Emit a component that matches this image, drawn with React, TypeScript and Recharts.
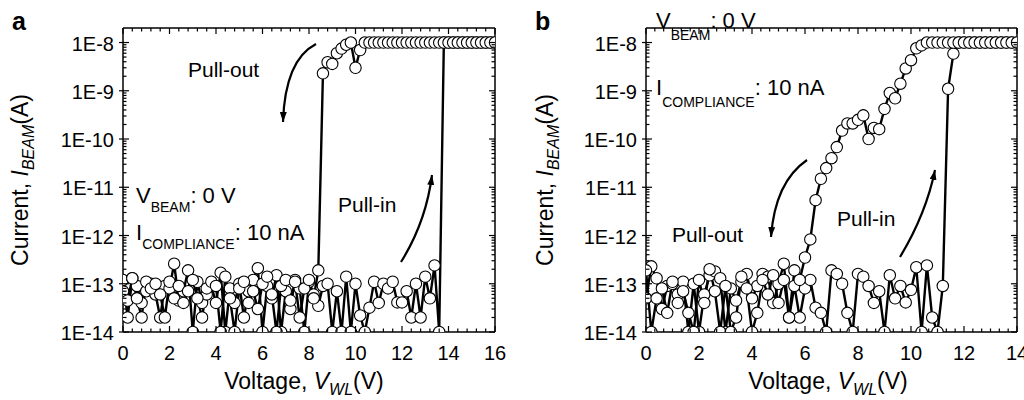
import React from "react";
import { LineChart, Line, XAxis, YAxis } from "recharts";

const FONT = "'Liberation Sans', Arial, Helvetica, sans-serif";

// panel a: sweep grid (V) and beam current (A)
const VOLT_A = [
  0, 0.2, 0.4, 0.6, 0.8, 1, 1.2, 1.4, 1.6, 1.8, 2, 2.2, 2.4, 2.6, 2.8, 3, 3.2, 3.4, 3.6, 3.8,
  4, 4.2, 4.4, 4.6, 4.8, 5, 5.2, 5.4, 5.6, 5.8, 6, 6.2, 6.4, 6.6, 6.8, 7, 7.2, 7.4, 7.6, 7.8,
  8, 8.2, 8.4, 8.6, 8.8, 9, 9.2, 9.4, 9.6, 9.8, 10, 10.2, 10.4, 10.6, 10.8, 11, 11.2, 11.4, 11.6, 11.8,
  12, 12.2, 12.4, 12.6, 12.8, 13, 13.2, 13.4, 13.6, 13.8, 14, 14.2, 14.4, 14.6, 14.8, 15, 15.2, 15.4, 15.6, 15.8,
  16,
];
const PULLIN_A = [
  1.2e-13, 2e-14, 1.3e-13, 9e-14, 4e-14, 7e-14, 1e-13, 6e-14, 2e-14, 9e-14,
  8e-14, 2.6e-13, 4.5e-14, 7e-14, 1.9e-13, 1e-14, 1.1e-13, 4e-14, 6e-14, 9e-14,
  4e-14, 1.7e-13, 1e-14, 8e-14, 4e-14, 1e-13, 2e-14, 7e-14, 1.2e-13, 2.1e-13,
  1e-14, 9e-14, 5e-14, 1.5e-13, 1e-14, 7e-14, 3e-14, 1.2e-13, 8e-14, 1e-14,
  1.1e-13, 6e-14, 3.5e-14,
  9e-14, 1e-13, 1e-14, 7e-14, 1e-14, 1.4e-13, 1e-14, 1e-13, 2.2e-14, 1e-14,
  3.2e-14, 1.1e-13, 4e-14, 1e-13, 8e-14, 1.1e-13, 4.1e-14, 4.1e-14, 7e-14, 2e-14,
  1e-13, 2e-14, 1.4e-13, 5e-14, 2.4e-13,
  1e-14,
  1e-8, 1e-8, 1e-8, 1e-8, 1e-8, 1e-8, 1e-8, 1e-8, 1e-8, 1e-8, 1e-8, 1e-8,
];
const PULLOUT_A = [
  7e-14, 4.5e-14, 1.3e-13, 5e-14, 2e-14, 1.1e-13, 8e-14, 1e-13, 6e-14, 2e-14,
  1.1e-13, 5e-14, 9e-14, 4e-14, 7e-14, 1.2e-13, 5e-14, 2e-14, 8e-14, 1.1e-13,
  9e-14, 1e-14, 1.4e-13, 5e-14, 1e-14, 8e-14, 1.1e-13, 4e-14, 7e-14, 3e-14,
  1e-13, 1.4e-13, 6e-14, 1e-14, 9e-14, 1.2e-13, 4.5e-14, 1.1e-13, 2e-14, 8e-14,
  1.2e-13, 5e-14,
  1.9e-13,
  2.3e-9, 3.9e-9, 3.6e-9, 6e-9, 7.5e-9, 9e-9, 1e-8, 3e-9, 7e-9,
  1e-8, 1e-8, 1e-8, 1e-8, 1e-8, 1e-8, 1e-8, 1e-8, 1e-8, 1e-8,
  1e-8, 1e-8, 1e-8, 1e-8, 1e-8, 1e-8, 1e-8, 1e-8, 1e-8, 1e-8,
  1e-8, 1e-8, 1e-8, 1e-8, 1e-8, 1e-8, 1e-8, 1e-8, 1e-8,
];

// panel b
const VOLT_B = [
  0, 0.2, 0.4, 0.6, 0.8, 1, 1.2, 1.4, 1.6, 1.8, 2, 2.2, 2.4, 2.6, 2.8, 3, 3.2, 3.4, 3.6, 3.8,
  4, 4.2, 4.4, 4.6, 4.8, 5, 5.2, 5.4, 5.6, 5.8, 6, 6.2, 6.4, 6.6, 6.8, 7, 7.2, 7.4, 7.6, 7.8,
  8, 8.2, 8.4, 8.6, 8.8, 9, 9.2, 9.4, 9.6, 9.8, 10, 10.2, 10.4, 10.6, 10.8, 11, 11.2, 11.4, 11.6, 11.8,
  12, 12.2, 12.4, 12.6, 12.8, 13, 13.2, 13.4, 13.6, 13.8, 14,
];
const PULLIN_B = [
  5e-14, 2.3e-13, 1.3e-13, 3e-14, 9e-14, 1e-13, 6e-14, 1.1e-13, 1e-14, 1e-13,
  1e-14, 6e-14, 1.5e-13, 1.8e-13, 1.3e-13, 1e-14, 8e-14, 4.5e-14, 1.1e-13, 1.6e-13,
  5e-14, 9e-14, 1.6e-13, 1.4e-13, 4e-14, 1e-13, 2.6e-13, 2e-14, 9e-14, 2e-14,
  8e-14, 1.2e-13, 3.2e-14, 2.5e-14, 1e-14, 1.9e-13, 1.6e-13, 1e-13, 2.5e-14, 1e-14,
  1.6e-13, 1.4e-13, 9e-14, 4e-14, 7e-14, 1e-14, 1.5e-13, 5e-14, 9e-14, 4.1e-14,
  7.5e-14, 2.2e-13, 1e-14, 2.4e-13, 2e-14, 1e-14, 9e-14,
  1.1e-9, 5.9e-9,
  1e-8, 1e-8, 1e-8, 1e-8, 1e-8, 1e-8, 1e-8, 1e-8, 1e-8, 1e-8, 1e-8, 1e-8,
];
const PULLOUT_B = [
  1.9e-13, 1e-14, 5e-14, 8e-14, 2.5e-14, 1.1e-13, 4e-14, 7e-14, 2.5e-14, 1e-14,
  1.2e-13, 4e-14, 2e-13, 7e-14, 1e-14, 9e-14, 1e-14, 2e-14, 1.4e-13, 8e-14,
  1e-14, 2.5e-14, 1.2e-13, 6e-14, 1.5e-13, 4e-14, 1.2e-13, 2e-14, 1.9e-13, 1.2e-13,
  3.5e-13, 8.3e-13, 5.4e-12, 1.5e-11, 2.5e-11, 4e-11, 6.8e-11, 1.5e-10, 2.1e-10, 2.1e-10,
  2.5e-10, 3.1e-10, 1e-10, 1.7e-10, 1.6e-10, 4.2e-10, 9e-10, 7e-10, 1.4e-9, 2.9e-9,
  4.3e-9, 7.6e-9, 8.7e-9,
  1e-8, 1e-8, 1e-8, 1e-8, 1e-8, 1e-8, 1e-8, 1e-8, 1e-8, 1e-8,
  1e-8, 1e-8, 1e-8, 1e-8, 1e-8, 1e-8, 1e-8, 1e-8,
];

const DECADES = [-14, -13, -12, -11, -10, -9, -8];
const Y_TICKS = DECADES.flatMap((e) =>
  (e === -8 ? [1] : [1, 2, 3, 4, 5, 6, 7, 8, 9]).map((m) => m * 10 ** e)
);
const X_TICKS_A = Array.from({ length: 41 }, (_, i) => i * 0.4);
const X_TICKS_B = Array.from({ length: 43 }, (_, i) => i / 3);

const AXIS = { stroke: "#000", strokeWidth: 1.5 };

function XTick(props: any) {
  const { x, y, payload, side } = props;
  const v = payload.value as number;
  const major = Math.abs(v / 2 - Math.round(v / 2)) < 1e-6;
  const len = major ? 6 : 3.5;
  const dir = side === "top" ? 1 : -1;
  return (
    <g>
      <line x1={x} x2={x} y1={y} y2={y + dir * len} stroke="#000" strokeWidth={1.2} />
      {major && side === "bottom" && (
        <text x={x} y={y + 28} textAnchor="middle" fontSize={20} fontFamily={FONT} fill="#000">
          {Math.round(v)}
        </text>
      )}
    </g>
  );
}

function YTick(props: any) {
  const { x, y, payload, side } = props;
  const e = Math.log10(payload.value as number);
  const major = Math.abs(e - Math.round(e)) < 1e-6;
  const len = major ? 6 : 3.5;
  const dir = side === "left" ? 1 : -1;
  return (
    <g>
      <line
        x1={major && side === "left" ? x - 4 : x}
        x2={x + dir * len}
        y1={y}
        y2={y}
        stroke="#000"
        strokeWidth={1.2}
      />
      {major && side === "left" && (
        <text x={x - 9} y={y + 8} textAnchor="end" fontSize={20} fontFamily={FONT} fill="#000">
          {`1E${Math.round(e)}`}
        </text>
      )}
    </g>
  );
}

// open circle marker
const ring = (p: any) => (
  <circle key={p.index} cx={p.cx} cy={p.cy} r={5.7} fill="#fff" stroke="#000" strokeWidth={1.1} />
);

function Panel({ volt, up, down, xMax, xTicks, width, right }: any) {
  const rows = volt.map((v: number, i: number) => ({ v, up: up[i], down: down[i] }));
  const xCommon = {
    dataKey: "v",
    type: "number" as const,
    domain: [0, xMax],
    ticks: xTicks,
    interval: 0,
    allowDataOverflow: true,
    tickSize: 0,
    tickMargin: 0,
    axisLine: AXIS,
    tickLine: false,
  };
  const yCommon = {
    type: "number" as const,
    scale: "log" as const,
    domain: [1e-14, 2e-8],
    ticks: Y_TICKS,
    interval: 0,
    allowDataOverflow: true,
    tickSize: 0,
    tickMargin: 0,
    axisLine: AXIS,
    tickLine: false,
  };
  return (
    <LineChart width={width} height={400} data={rows} margin={{ top: 18, right, bottom: 38, left: 63 }}>
      <XAxis {...xCommon} height={30} tick={(p: any) => <XTick {...p} side="bottom" />} />
      <XAxis {...xCommon} xAxisId="top" orientation="top" height={10} tick={(p: any) => <XTick {...p} side="top" />} />
      <YAxis {...yCommon} width={60} tick={(p: any) => <YTick {...p} side="left" />} />
      <YAxis {...yCommon} yAxisId="right" orientation="right" width={4} tick={(p: any) => <YTick {...p} side="right" />} />
      <Line dataKey="up" type="linear" stroke="#000" strokeWidth={2.4} dot={false} isAnimationActive={false} />
      <Line dataKey="down" type="linear" stroke="#000" strokeWidth={2.4} dot={false} isAnimationActive={false} />
      <Line dataKey="up" type="linear" stroke="none" dot={ring} isAnimationActive={false} />
      <Line dataKey="down" type="linear" stroke="none" dot={ring} isAnimationActive={false} />
    </LineChart>
  );
}

export default function App() {
  return (
    <div style={{ position: "absolute", left: 0, top: 0, width: 1024, height: 400, overflow: "hidden", background: "#fff" }}>
      <div style={{ position: "absolute", left: 0, top: 0 }}>
        <Panel volt={VOLT_A} up={PULLIN_A} down={PULLOUT_A} xMax={16} xTicks={X_TICKS_A} width={520} right={21} />
      </div>
      <div style={{ position: "absolute", left: 523, top: 0 }}>
        <Panel volt={VOLT_B} up={PULLIN_B} down={PULLOUT_B} xMax={14} xTicks={X_TICKS_B} width={501} right={3} />
      </div>
      <svg width={1024} height={400} style={{ position: "absolute", left: 0, top: 0, pointerEvents: "none" }} fontFamily={FONT} fill="#000">
        <defs>
          <marker id="ah" viewBox="0 0 10 7" refX={10} refY={3.5} markerWidth={10} markerHeight={7} markerUnits="userSpaceOnUse" orient="auto">
            <path d="M0,0 L10,3.5 L0,7 z" fill="#000" />
          </marker>
        </defs>
        <text x={12} y={30} fontSize={25} fontWeight="bold">a</text>
        <text x={535} y={30} fontSize={25} fontWeight="bold">b</text>

        {[28, 553].map((bx) => (
          <text key={bx} transform={`translate(${bx},180) rotate(-90)`} textAnchor="middle" fontSize={23}>
            {"Current, "}
            <tspan fontStyle="italic">I</tspan>
            <tspan fontStyle="italic" fontSize={16} dy={6}>BEAM</tspan>
            <tspan dy={-6}>(A)</tspan>
          </text>
        ))}
        {[304, 828].map((cx) => (
          <text key={cx} x={cx} y={389} textAnchor="middle" fontSize={23}>
            {"Voltage, "}
            <tspan fontStyle="italic">V</tspan>
            <tspan fontStyle="italic" fontSize={16} dy={6}>WL</tspan>
            <tspan dy={-6}>(V)</tspan>
          </text>
        ))}

        <text x={188} y={77} fontSize={21}>Pull-out</text>
        <text x={338} y={212} fontSize={21}>Pull-in</text>
        <text x={136} y={203} fontSize={22}>
          V<tspan fontSize={14} dy={9}>BEAM</tspan><tspan dy={-9}>: 0 V</tspan>
        </text>
        <text x={136} y={240} fontSize={22}>
          I<tspan fontSize={14} dy={9}>COMPLIANCE</tspan><tspan dy={-9}>: 10 nA</tspan>
        </text>

        <text x={672} y={242} fontSize={21}>Pull-out</text>
        <text x={837} y={226} fontSize={21}>Pull-in</text>
        <text x={656} y={28} fontSize={22}>
          V<tspan fontSize={14} dy={12}>BEAM</tspan><tspan dy={-12}>: 0 V</tspan>
        </text>
        <text x={656} y={95} fontSize={22}>
          I<tspan fontSize={14} dy={12}>COMPLIANCE</tspan><tspan dy={-12}>: 10 nA</tspan>
        </text>

        <g fill="none" stroke="#000" strokeWidth={2.2}>
          <path d="M316,44 Q285,60 283,122" markerEnd="url(#ah)" />
          <path d="M401,262 Q426,222 432,175" markerEnd="url(#ah)" />
          <path d="M807,160 Q775,182 771,237" markerEnd="url(#ah)" />
          <path d="M900,257 Q926,214 935,170" markerEnd="url(#ah)" />
        </g>
      </svg>
    </div>
  );
}
